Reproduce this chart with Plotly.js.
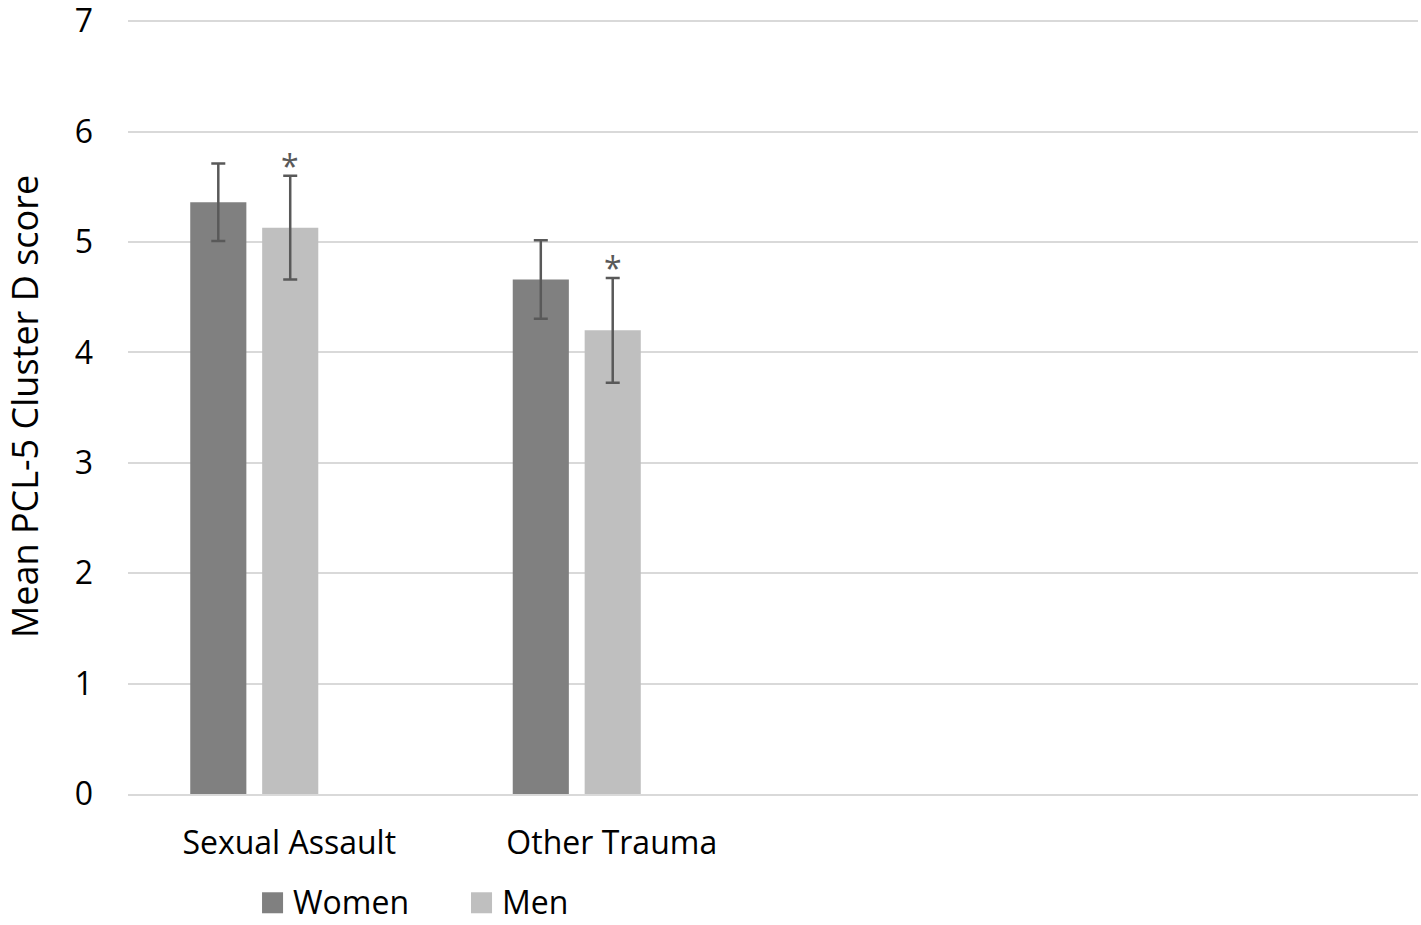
<!DOCTYPE html>
<html>
<head>
<meta charset="utf-8">
<script src="https://cdn.plot.ly/plotly-3.0.1.min.js"></script>
<style>
  body { margin: 0; background: #fff; }
  #chart { width: 1421px; height: 925px; }
</style>
</head>
<body>
<div id="chart"></div>
<script>
// categories and values
var categories = ['Sexual Assault', 'Other Trauma'];
var women = [5.36, 4.66];
var womenErr = [0.35, 0.355];
var men = [5.13, 4.20];
var menErr = [0.47, 0.475];
var significant = ['*', '*'];   // marks shown above the men bars
var seriesNames = ['Women', 'Men'];
var seriesColors = ['#808080', '#bfbfbf'];

var font = 'Open Sans, Noto Sans, sans-serif';
var errStyle = { color: '#595959', thickness: 2.5, width: 7 };

var traceWomen = {
  x: categories,
  y: women,
  type: 'bar',
  name: seriesNames[0],
  width: 0.174,
  offset: -0.307,
  marker: { color: seriesColors[0] },
  error_y: Object.assign({ type: 'data', array: womenErr, visible: true }, errStyle)
},
traceMen = {
  x: categories,
  y: men,
  type: 'bar',
  name: seriesNames[1],
  width: 0.174,
  offset: -0.084,
  marker: { color: seriesColors[1] },
  error_y: Object.assign({ type: 'data', array: menErr, visible: true }, errStyle)
};

// asterisks sit just above the men's error bar
var notes = [];
for (var i = 0; i < categories.length; i++) {
  notes.push({
    x: categories[i], y: men[i] + menErr[i],
    xref: 'x', yref: 'y',
    text: significant[i],
    showarrow: false,
    yanchor: 'bottom',
    xshift: 1, yshift: -13,
    font: { family: font, size: 32, color: '#595959' }
  });
}

// legend drawn by hand so the swatches can be as big as in the original
var shapes = [];
var legendX = [0.1039, 0.2659];   // paper x of each swatch
for (var k = 0; k < seriesNames.length; k++) {
  shapes.push({
    type: 'rect', xref: 'paper', yref: 'paper',
    x0: legendX[k], x1: legendX[k] + 0.0163,
    y0: -0.1268, y1: -0.1539,
    fillcolor: seriesColors[k], line: { width: 0 }
  });
  notes.push({
    xref: 'paper', yref: 'paper',
    x: legendX[k] + 0.0225, y: -0.1385,
    xanchor: 'left', yanchor: 'middle',
    text: seriesNames[k], showarrow: false,
    font: { family: font, size: 32, color: '#000' }
  });
}

var layout = {
  width: 1421,
  height: 925,
  margin: { l: 128, r: 3, t: 19, b: 131 },
  paper_bgcolor: '#fff',
  plot_bgcolor: '#fff',
  font: { family: font, size: 32, color: '#000' },
  showlegend: false,
  xaxis: {
    type: 'category',
    range: [-0.5, 3.5],
    showgrid: false,
    zeroline: false,
    showline: true,
    linecolor: '#d9d9d9',
    linewidth: 2,
    ticks: '',
    ticklabelstandoff: 20,
    tickfont: { family: font, size: 32, color: '#000' }
  },
  yaxis: {
    range: [0, 7.02],
    tickvals: [0, 1, 2, 3, 4, 5, 6, 7],
    showgrid: true,
    gridcolor: '#d9d9d9',
    gridwidth: 2,
    zeroline: false,
    showline: false,
    ticks: '',
    ticklabelstandoff: 34,
    ticklabeloverflow: 'allow',
    tickfont: { family: font, size: 32, color: '#000' },
    title: { text: 'Mean PCL-5 Cluster D score', font: { family: font, size: 36, color: '#000' }, standoff: 38 }
  },
  shapes: shapes,
  annotations: notes
};

Plotly.newPlot('chart', [traceWomen, traceMen], layout, { displayModeBar: false, staticPlot: true });
</script>
</body>
</html>
